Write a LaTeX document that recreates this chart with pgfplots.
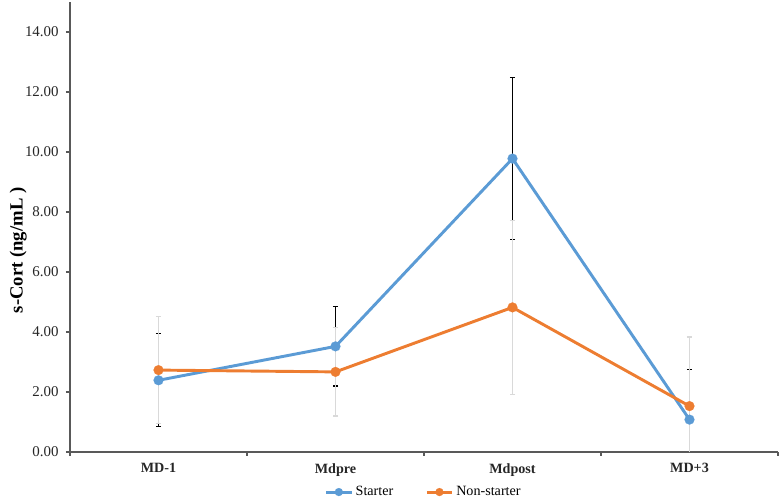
\documentclass[border=0pt]{standalone}
\usepackage{pgfplots}
\pgfplotsset{compat=1.18}
\usepackage{fontspec}
\setmainfont{Liberation Serif}
\definecolor{sblue}{HTML}{5B9BD5}
\definecolor{sorange}{HTML}{ED7D31}
\definecolor{egray}{HTML}{D9D9D9}
\definecolor{axgray}{HTML}{595959}
\begin{document}
\begin{tikzpicture}
\begin{axis}[name=ax, scale only axis, width=531pt, height=337.5pt,
  xmin=0, xmax=4, ymin=0, ymax=15,
  axis x line*=bottom, axis y line*=left,
  axis line style={axgray, line width=0.9pt},
  xtick={0,1,2,3,4}, x tick label as interval,
  xticklabels={MD-1,Mdpre,Mdpost,MD+3},
  ytick={0,2,4,6,8,10,12,14},
  tick align=outside, major tick length=3pt,
  tick style={axgray, line width=0.8pt},
  /pgf/number format/assume math mode=true,
  yticklabel style={font=\fontsize{11.2}{13}\selectfont, text=black!85, xshift=-2pt,
    /pgf/number format/fixed, /pgf/number format/fixed zerofill, /pgf/number format/precision=2},
  xticklabel style={font=\fontsize{10.6}{12}\selectfont\bfseries, text=black!85, yshift=-2pt},
  ylabel={s-Cort (ng/mL )},
  ylabel style={font=\fontsize{14}{16}\selectfont\bfseries, at={(axis description cs:-0.073,0.448)}, anchor=center},
  legend style={at={(0.5,-0.089)}, anchor=center, draw=none, fill=none,
    font=\fontsize{10.6}{12}\selectfont, legend columns=2,
    /tikz/every even column/.append style={column sep=22pt}},
  legend image code/.code={\draw[mark repeat=2,mark phase=2,mark size=3pt] plot coordinates {(0pt,0pt)(9.5pt,0pt)(19pt,0pt)};},
]
% Starter error bars (black)
\addplot[forget plot, only marks, mark=none,
  error bars/.cd, y dir=both, y explicit,
  error bar style={black, line width=0.9pt},
  error mark options={rotate=90, black, mark size=2pt, line width=0.9pt}]
  coordinates {(0.5,2.39) +- (0,1.55) (1.5,3.52) +- (0,1.32) (2.5,9.78) +- (0,2.70) (3.5,1.08) +- (0,1.68)};
% Non-starter error bars (light gray)
\addplot[forget plot, only marks, mark=none,
  error bars/.cd, y dir=both, y explicit,
  error bar style={egray, line width=0.9pt},
  error mark options={rotate=90, egray, mark size=2pt, line width=0.9pt}]
  coordinates {(0.5,2.73) +- (0,1.78) (1.5,2.67) +- (0,1.47) (2.5,4.82) +- (0,2.90) (3.5,1.53) +- (0,2.30)};
\addplot[sblue, line width=2.2pt, mark=*, mark size=3.7pt, mark options={fill=sblue, draw=sblue, line width=0.1pt}]
  coordinates {(0.5,2.39) (1.5,3.52) (2.5,9.78) (3.5,1.08)};
\addlegendentry{Starter}
\addplot[sorange, line width=2.2pt, mark=*, mark size=3.7pt, mark options={fill=sorange, draw=sorange, line width=0.1pt}]
  coordinates {(0.5,2.73) (1.5,2.67) (2.5,4.82) (3.5,1.53)};
\addlegendentry{Non-starter}
\end{axis}
\pgfresetboundingbox
\path ([shift={(-52.5pt,-34.5pt)}]ax.south west) rectangle ([shift={(3pt,1.5pt)}]ax.north east);
\end{tikzpicture}
\end{document}
